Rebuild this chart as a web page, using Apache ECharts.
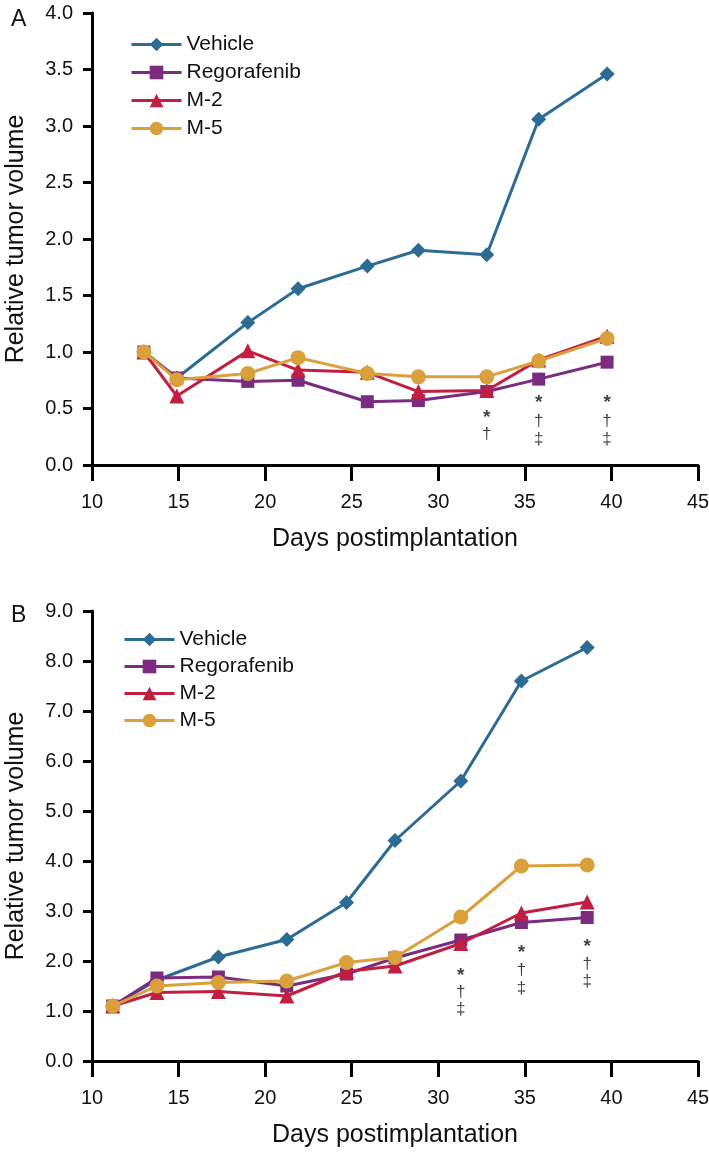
<!DOCTYPE html>
<html>
<head>
<meta charset="utf-8">
<script src="https://cdn.jsdelivr.net/npm/echarts@6/dist/echarts.min.js"></script>
<style>
  html, body { margin: 0; padding: 0; background: #fff; }
  #chart { width: 709px; height: 1158px; }
</style>
</head>
<body>
<div id="chart"></div>
<script>
// ---------- Panel A data ----------
const daysA = [13, 14.9, 19.0, 21.9, 25.9, 28.85, 32.8, 35.8, 39.75];
const vehicleA = [1.0, 0.77, 1.26, 1.56, 1.76, 1.90, 1.86, 3.06, 3.46];
const regorafenibA = [1.0, 0.77, 0.74, 0.75, 0.56, 0.57, 0.65, 0.76, 0.91];
const m2A = [1.0, 0.61, 1.01, 0.84, 0.82, 0.65, 0.66, 0.93, 1.14];
const m5A = [1.0, 0.755, 0.81, 0.95, 0.81, 0.78, 0.78, 0.92, 1.12];
const annotA = [
  [32.8, 0.416, '*'], [32.8, 0.268, '†'],
  [35.8, 0.549, '*'], [35.8, 0.387, '†'], [35.8, 0.23, '‡'],
  [39.75, 0.549, '*'], [39.75, 0.387, '†'], [39.75, 0.23, '‡']
];

// ---------- Panel B data ----------
const daysB = [11.2, 13.75, 17.3, 21.25, 24.7, 27.5, 31.3, 34.8, 38.6];
const vehicleB = [1.1, 1.62, 2.08, 2.43, 3.17, 4.41, 5.6, 7.6, 8.27];
const regorafenibB = [1.1, 1.66, 1.68, 1.5, 1.74, 2.06, 2.42, 2.77, 2.87];
const m2B = [1.1, 1.37, 1.39, 1.3, 1.79, 1.9, 2.35, 2.96, 3.18];
const m5B = [1.1, 1.5, 1.57, 1.6, 1.97, 2.07, 2.88, 3.9, 3.92];
const annotB = [
  [31.3, 1.706, '*'], [31.3, 1.366, '†'], [31.3, 1.03, '‡'],
  [34.8, 2.174, '*'], [34.8, 1.814, '†'], [34.8, 1.45, '‡'],
  [38.6, 2.286, '*'], [38.6, 1.934, '†'], [38.6, 1.60, '‡']
];

const xTicks = { min: 10, max: 45, interval: 5 };
const seriesNames = ['Vehicle', 'Regorafenib', 'M-2', 'M-5'];
const colors = ['#2c6b94', '#7b2c7f', '#c11f42', '#daa03c'];
const symbols = ['diamond', 'rect', 'triangle', 'circle'];
const symbolSizes = [15, 13, 15, 15];

const FONT = 'Liberation Sans, Arial, sans-serif';

function zip(xs, ys) { return xs.map((x, i) => [x, ys[i]]); }

function makeLines(days, valuesList, gridIndex) {
  return valuesList.map((vals, i) => ({
    name: seriesNames[i],
    type: 'line',
    xAxisIndex: gridIndex,
    yAxisIndex: gridIndex,
    data: zip(days, vals),
    color: colors[i],
    symbol: symbols[i],
    symbolSize: symbolSizes[i],
    lineStyle: { width: 3, color: colors[i] },
    itemStyle: { color: colors[i] },
    z: 2 + i,
    animation: false
  }));
}

function makeAnnot(annot, gridIndex) {
  return {
    type: 'scatter',
    xAxisIndex: gridIndex,
    yAxisIndex: gridIndex,
    data: annot,
    symbolSize: 1,
    itemStyle: { color: 'rgba(0,0,0,0)' },
    silent: true,
    animation: false,
    z: 10,
    label: {
      show: true,
      position: 'inside',
      formatter: p => p.value[2] === '*' ? '{a|*}' : '{b|' + p.value[2] + '}',
      rich: {
        a: { fontSize: 19, fontWeight: 'bold', color: '#111', fontFamily: FONT },
        b: { fontSize: 17, color: '#111', fontFamily: FONT }
      }
    }
  };
}

function xAxisCfg(gridIndex) {
  return {
    type: 'value', gridIndex,
    min: xTicks.min, max: xTicks.max, interval: xTicks.interval,
    name: 'Days postimplantation',
    nameLocation: 'middle', nameGap: 62,
    nameTextStyle: { fontSize: 25, color: '#111', fontFamily: FONT },
    axisLine: { lineStyle: { color: '#000', width: 3 } },
    axisTick: { length: 16, lineStyle: { color: '#000', width: 3 } },
    axisLabel: { fontSize: 20, color: '#111', margin: 27, fontFamily: FONT },
    splitLine: { show: false }
  };
}

function yAxisCfg(gridIndex, max, interval) {
  return {
    type: 'value', gridIndex,
    min: 0, max, interval,
    name: 'Relative tumor volume',
    nameLocation: 'middle', nameGap: 63,
    nameTextStyle: { fontSize: 25, color: '#111', fontFamily: FONT },
    axisLine: { show: true, lineStyle: { color: '#000', width: 3 } },
    axisTick: { show: true, length: 9, lineStyle: { color: '#000', width: 3 } },
    axisLabel: { fontSize: 20, color: '#111', margin: 19, fontFamily: FONT,
                 formatter: v => v.toFixed(1) },
    splitLine: { show: false }
  };
}

function legendCfg(left, top, gap) {
  return {
    orient: 'vertical', left, top,
    data: seriesNames,
    itemWidth: 50, itemHeight: 17, itemGap: gap,
    lineStyle: { width: 3 },
    textStyle: { fontSize: 21, color: '#111', fontFamily: FONT },
    selectedMode: false
  };
}

const chart = echarts.init(document.getElementById('chart'), null, { renderer: 'canvas' });
chart.setOption({
  backgroundColor: '#fff',
  animation: false,
  title: [
    { text: 'A', left: 6, top: 3, textStyle: { fontSize: 23, fontWeight: 'normal', color: '#111', fontFamily: FONT } },
    { text: 'B', left: 6, top: 599, textStyle: { fontSize: 23, fontWeight: 'normal', color: '#111', fontFamily: FONT } }
  ],
  legend: [legendCfg(125, 29, 7), legendCfg(118, 624, 6)],
  grid: [
    { left: 92, right: 11, top: 13, height: 452, containLabel: false, outerBoundsMode: 'none' },
    { left: 92, right: 11, top: 611, height: 450, containLabel: false, outerBoundsMode: 'none' }
  ],
  xAxis: [xAxisCfg(0), xAxisCfg(1)],
  yAxis: [yAxisCfg(0, 4, 0.5), yAxisCfg(1, 9, 1)],
  series: [
    ...makeLines(daysA, [vehicleA, regorafenibA, m2A, m5A], 0),
    ...makeLines(daysB, [vehicleB, regorafenibB, m2B, m5B], 1),
    makeAnnot(annotA, 0),
    makeAnnot(annotB, 1)
  ]
});
</script>
</body>
</html>
